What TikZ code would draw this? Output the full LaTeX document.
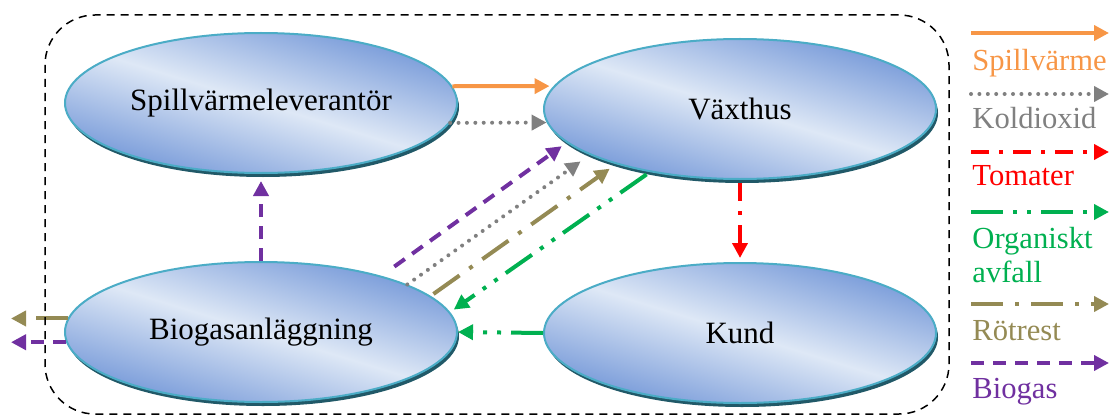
\documentclass[tikz,border=0pt]{standalone}
\usepackage{fontspec}
\setmainfont{Liberation Serif}
\usetikzlibrary{shapes.geometric,arrows.meta,shadows}

\definecolor{spillorange}{HTML}{F79646}
\definecolor{koldgray}{HTML}{808080}
\definecolor{tomatred}{HTML}{FF0000}
\definecolor{avfallgreen}{HTML}{00B050}
\definecolor{rotolive}{HTML}{948A54}
\definecolor{gaspurple}{HTML}{7030A0}
\definecolor{ellborder}{HTML}{4BACC6}
\definecolor{ellshadow}{HTML}{215968}
\definecolor{ellight}{HTML}{DEE8F6}
\definecolor{elldark}{HTML}{7B9DDA}

\tikzset{
  aktor/.style={ellipse, draw=ellborder, line width=1pt,
    minimum width=196pt, minimum height=70pt,
    drop shadow={shadow xshift=1pt, shadow yshift=-2pt, fill=ellshadow, opacity=1},
    % tilted light band across the ellipse
    path picture={
      \begin{scope}[transform canvas={rotate around={-17:(path picture bounding box.center)}}]
        \shade[top color=elldark, bottom color=elldark, middle color=ellight]
          ([shift={(-120pt,-46pt)}]path picture bounding box.center) rectangle
          ([shift={(120pt,46pt)}]path picture bounding box.center);
      \end{scope}},
    font=\fontsize{15.5}{18}\selectfont},
  flow/.style={line width=2pt, -{Triangle[length=7.5pt,width=7.5pt]}},
  spillv/.style={flow, spillorange},
  koldi/.style={flow, koldgray, line cap=round, dash pattern=on 0pt off 4.2pt},
  tomat/.style={flow, tomatred, dash pattern=on 9pt off 5pt on 2pt off 5pt},
  avfall/.style={flow, avfallgreen, dash pattern=on 16pt off 5pt on 2pt off 5pt on 2pt off 5pt},
  rotrest/.style={flow, rotolive, dash pattern=on 16pt off 6pt on 2pt off 6pt},
  gasflow/.style={flow, gaspurple, dash pattern=on 6.5pt off 4.5pt},
  legtext/.style={anchor=base west, inner sep=0pt, font=\fontsize{15.3}{18}\selectfont},
}

\begin{document}
\begin{tikzpicture}[x=0.5pt,y=-0.5pt]
\useasboundingbox (0,0) rectangle (1111,417);

% the four actors
\node[aktor] (spill) at (261,103) {Spillvärmeleverantör};
\node[aktor] (vaxthus) at (740,109) {Växthus};
\node[aktor] (biogas) at (261,332) {Biogasanläggning};
\node[aktor] (kund) at (740,333) {Kund};

% flows between the actors
\draw[spillv, shorten >=2pt] (spill.5) -- (vaxthus.173);
\draw[koldi] (spill.-6) -- (vaxthus.184);
\draw[tomat, shorten <=1.5pt, shorten >=2pt] (vaxthus.south) -- (kund.north);
\draw[avfall] (kund.west) -- (biogas.east);
\draw[gasflow, shorten >=3.5pt] (biogas.north) -- (spill.south);

% diagonal bundle Biogasanläggning <-> Växthus
\draw[gasflow, shorten <=7.9pt, shorten >=3pt] (biogas.25.4) -- (vaxthus.191);
\draw[koldi, shorten >=5.6pt] (biogas.18) -- (vaxthus.197.5);
\draw[rotrest, shorten <=1.7pt, shorten >=3.9pt] (biogas.12.6) -- (vaxthus.204.6);
\draw[avfall, shorten <=2pt, shorten >=2.2pt] (vaxthus.215) -- (biogas.6.7);

% out of the system
\coordinate (rotut) at (11,320);
\coordinate (gasut) at (11,345);
\draw[rotrest] (biogas.176.4) -- (biogas.176.4 -| rotut);
\draw[gasflow] (biogas.183.9) -- (biogas.183.9 -| gasut);

% system border
\draw[line width=0.75pt, dash pattern=on 4pt off 3pt, rounded corners=25pt]
  (45,15) rectangle (949,414);

% legend
\coordinate (lspill0) at (971,33);   \coordinate (lspill1) at (1109,33);
\coordinate (lkold0) at (971,94);    \coordinate (lkold1) at (1109,94);
\coordinate (ltomat0) at (971,152);  \coordinate (ltomat1) at (1109,152);
\coordinate (lavfall0) at (971,212); \coordinate (lavfall1) at (1109,212);
\coordinate (lrot0) at (971,304);    \coordinate (lrot1) at (1109,304);
\coordinate (lgas0) at (971,363);    \coordinate (lgas1) at (1109,363);

\draw[spillv] (lspill0) -- (lspill1);
\draw[koldi] (lkold0) -- (lkold1);
\draw[tomat] (ltomat0) -- (ltomat1);
\draw[avfall] (lavfall0) -- (lavfall1);
\draw[rotrest] (lrot0) -- (lrot1);
\draw[gasflow] (lgas0) -- (lgas1);

\node[legtext, text=spillorange] (tspill) at (972,70) {Spillvärme};
\node[legtext, text=koldgray] (tkold) at (972,128) {Koldioxid};
\node[legtext, text=tomatred] (ttomat) at (972,185) {Tomater};
\node[legtext, text=avfallgreen] (tavfall) at (972,248) {Organiskt};
\node[legtext, text=avfallgreen] (tavfall2) at (972,282) {avfall};
\node[legtext, text=rotolive] (trot) at (972,340) {Rötrest};
\node[legtext, text=gaspurple] (tgas) at (972,398) {Biogas};

\end{tikzpicture}
\end{document}
